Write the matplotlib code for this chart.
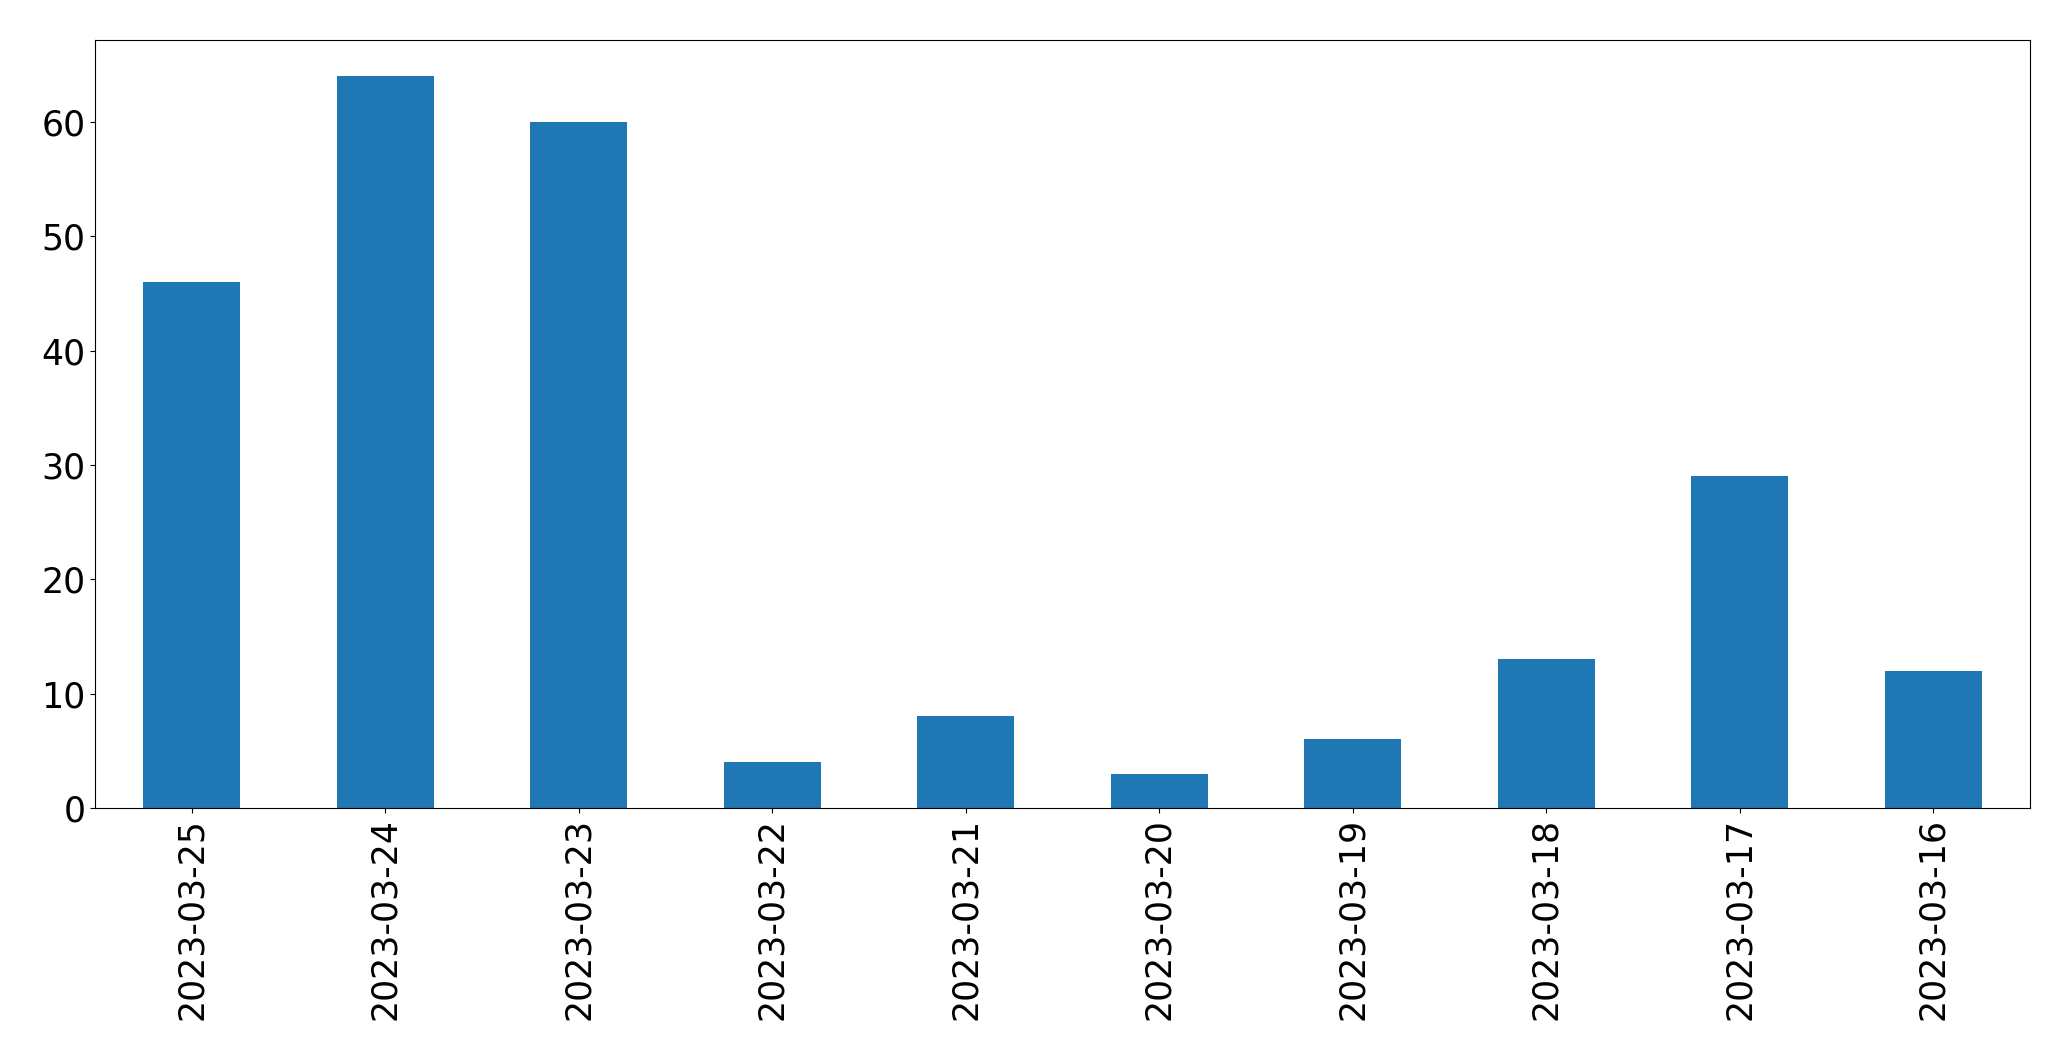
import pandas as pd
import matplotlib
matplotlib.use("Agg")
import matplotlib.pyplot as plt

dates = ["2023-03-25", "2023-03-24", "2023-03-23", "2023-03-22", "2023-03-21",
         "2023-03-20", "2023-03-19", "2023-03-18", "2023-03-17", "2023-03-16"]
counts = [46, 64, 60, 4, 8, 3, 6, 13, 29, 12]

plt.rcParams["font.size"] = 25

series = pd.Series(counts, index=dates)

fig, ax = plt.subplots(figsize=(20.71, 10.61), dpi=100)
series.plot.bar(ax=ax, color="#1f77b4")
ax.tick_params(axis="both", labelsize=25)

fig.subplots_adjust(left=0.0459, right=0.9802, top=0.9627, bottom=0.2385)
fig.savefig("out.png", dpi=100)
